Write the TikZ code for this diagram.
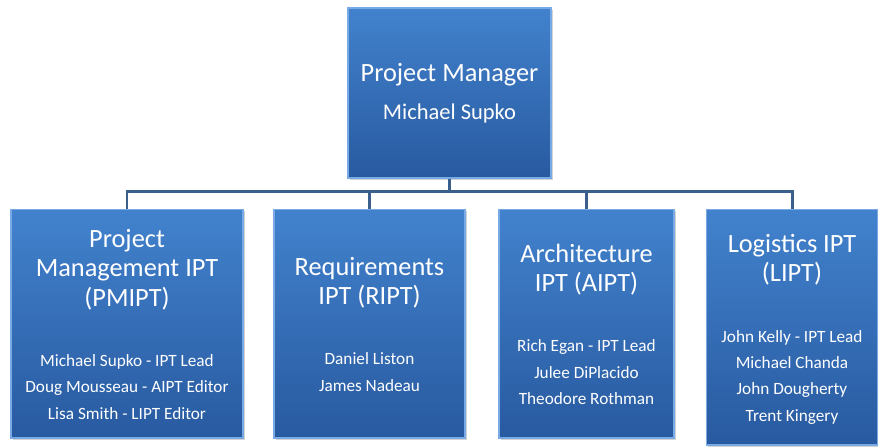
\documentclass[tikz,border=0pt]{standalone}
\usepackage{fontspec}
\setmainfont{Carlito}
\usetikzlibrary{shadows}
\definecolor{orgtop}{RGB}{66,130,205}
\definecolor{orgbot}{RGB}{40,90,160}
\definecolor{orgrim}{RGB}{120,170,230}
\definecolor{orgline}{RGB}{58,95,140}
\newcommand{\namelist}[1]{{\fontsize{9.8}{15}\selectfont\begin{tabular}[t]{@{}c@{}}#1\end{tabular}}}
\newcommand{\toppad}{\rule{0pt}{15.6pt}}

\begin{document}
\begin{tikzpicture}[x=0.02cm,y=-0.02cm,
box/.style={draw=orgrim,line width=0.6pt,top color=orgtop,bottom color=orgbot,text=white,align=center,
  font=\fontsize{15}{16.7}\selectfont,inner sep=0pt,
  drop shadow={opacity=0.35,shadow xshift=1.2pt,shadow yshift=-1.2pt}},
link/.style={draw=orgline,line width=1.7pt}]
\useasboundingbox (0,0) rectangle (878,447);
\node[box,minimum width=4.06cm,minimum height=3.4cm] (pm) at (449.5,93) {Project Manager\\[5pt]{\fontsize{12.8}{15}\selectfont Michael Supko}};
\node[box,minimum width=4.64cm,minimum height=4.58cm] (pmipt) at (127,323.5) {\toppad Project\\Management IPT\\(PMIPT)\\[17.6pt]\namelist{Michael Supko - IPT Lead\\Doug Mousseau - AIPT Editor\\Lisa Smith - LIPT Editor}};
\node[box,minimum width=3.82cm,minimum height=4.58cm] (ript) at (369.5,323.5) {\toppad Requirements\\IPT (RIPT)\\[17.6pt]\namelist{Daniel Liston\\James Nadeau}};
\node[box,minimum width=3.5cm,minimum height=4.58cm] (aipt) at (586.5,323.5) {\toppad Architecture\\IPT (AIPT)\\[17.6pt]\namelist{Rich Egan - IPT Lead\\Julee DiPlacido\\Theodore Rothman}};
\node[box,minimum width=3.44cm,minimum height=4.72cm] (lipt) at (792,327) {\toppad Logistics IPT\\(LIPT)\\[17.6pt]\namelist{John Kelly - IPT Lead\\Michael Chanda\\John Dougherty\\Trent Kingery}};
\foreach \team in {pmipt,ript,aipt,lipt}
  \draw[link] (pm.south) -- ++(0,13) -| (\team.north);
\end{tikzpicture}
\end{document}
